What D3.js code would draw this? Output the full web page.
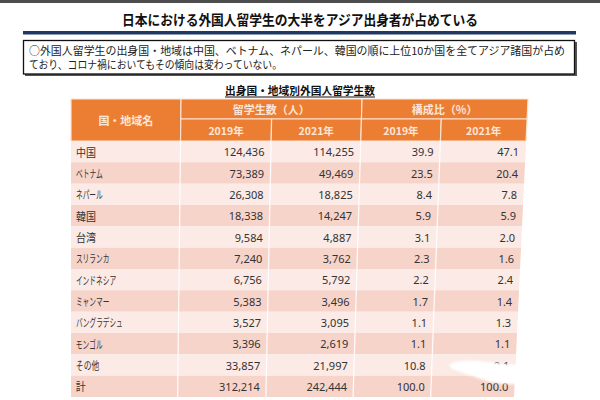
<!DOCTYPE html>
<html><head><meta charset="utf-8">
<script src="https://cdn.jsdelivr.net/npm/d3@7"></script>
<style>html,body{margin:0;padding:0;background:#fff;}svg{display:block;}</style>
</head><body>
<svg id="c" width="600" height="400"></svg>
<script>
const title = "日本における外国人留学生の大半をアジア出身者が占めている";
const note1 = "○外国人留学生の出身国・地域は中国、ベトナム、ネパール、韓国の順に上位10か国を全てアジア諸国が占め";
const note2 = "ており、コロナ禍においてもその傾向は変わっていない。";
const tableTitle = "出身国・地域別外国人留学生数";
const headCountry = "国・地域名";
const headGroups = ["留学生数（人）", "構成比（%）"];
const years = ["2019年", "2021年", "2019年", "2021年"];
const countries = ["中国","ベトナム","ネパール","韓国","台湾","スリランカ","インドネシア","ミャンマー","バングラデシュ","モンゴル","その他","計"];
const students2019 = [124436,73389,26308,18338,9584,7240,6756,5383,3527,3396,33857,312214];
const students2021 = [114255,49469,18825,14247,4887,3762,5792,3496,3095,2619,21997,242444];
const share2019 = [39.9,23.5,8.4,5.9,3.1,2.3,2.2,1.7,1.1,1.1,10.8,100.0];
const share2021 = [47.1,20.4,7.8,5.9,2.0,1.6,2.4,1.4,1.3,1.1,9.1,100.0];

const svg = d3.select("#c");
const JP = "'Noto Sans CJK JP','Noto Sans',sans-serif";

// top strip
svg.append("rect").attr("x",0).attr("y",0).attr("width",600).attr("height",3).attr("fill","#4d4d4d");

// title
svg.append("text").attr("x",300).attr("y",19).attr("text-anchor","middle").attr("dominant-baseline","central")
  .attr("font-family",JP).attr("font-weight",700).attr("font-size",14).attr("fill","#111")
  .attr("textLength",356).attr("lengthAdjust","spacingAndGlyphs").text(title);
svg.append("rect").attr("x",23).attr("y",31).attr("width",553).attr("height",3.5).attr("fill","#1f3864");

// note box
svg.append("rect").attr("x",25).attr("y",42).attr("width",552).attr("height",34).attr("fill","#555");
svg.append("rect").attr("x",23.5).attr("y",40.5).attr("width",551).attr("height",33.5)
  .attr("fill","#fff").attr("stroke","#111").attr("stroke-width",1.3);
svg.append("text").attr("x",29).attr("y",49.5).attr("dominant-baseline","central")
  .attr("font-family",JP).attr("font-size",11).attr("fill","#222")
  .attr("textLength",536).attr("lengthAdjust","spacingAndGlyphs").text(note1);
svg.append("text").attr("x",29).attr("y",64).attr("dominant-baseline","central")
  .attr("font-family",JP).attr("font-size",11).attr("fill","#222")
  .attr("textLength",253).attr("lengthAdjust","spacingAndGlyphs").text(note2);

// table subtitle
svg.append("text").attr("x",300).attr("y",90).attr("text-anchor","middle").attr("dominant-baseline","central")
  .attr("font-family",JP).attr("font-weight",700).attr("font-size",10.8).attr("fill","#111")
  .attr("textLength",150).attr("lengthAdjust","spacingAndGlyphs").text(tableTitle);
svg.append("rect").attr("x",225).attr("y",96.5).attr("width",150).attr("height",1).attr("fill","#111");

// table geometry via scales
const colKeys = ["name","s19","s21","p19","p21","end"];
const colX = d3.scaleOrdinal().domain(colKeys).range([71,181,272,362,442,528]);
const headSplit = 119;
const rowY = d3.scaleBand().domain(countries).range([141,397]);
// slight perspective of the photographed table
const warp = (x,y) => 71 + (x-71)*(1 - 0.000103*(y-100));
const quad = (x0,x1,y0,y1) => [[warp(x0,y0),y0],[warp(x1,y0),y0],[warp(x1,y1),y1],[warp(x0,y1),y1]]
  .map(p=>p.join(",")).join(" ");

const g = svg.append("g");
const orange = "#ec7e33";
const headTxt = "#fde6d8";

// header cells
const headCells = [
  {x0:"name",x1:"s19",y0:99,y1:141},
  {x0:"s19",x1:"p19",y0:99,y1:headSplit},
  {x0:"p19",x1:"end",y0:99,y1:headSplit},
  {x0:"s19",x1:"s21",y0:headSplit,y1:141},
  {x0:"s21",x1:"p19",y0:headSplit,y1:141},
  {x0:"p19",x1:"p21",y0:headSplit,y1:141},
  {x0:"p21",x1:"end",y0:headSplit,y1:141}
];
g.selectAll("polygon.h").data(headCells).join("polygon").attr("class","h")
  .attr("points",d=>quad(colX(d.x0),colX(d.x1),d.y0,d.y1))
  .attr("fill",orange).attr("stroke","#fbe3d3").attr("stroke-width",1.2);

// body cells
const cols = ["name","s19","s21","p19","p21"];
const nextCol = {name:"s19",s19:"s21",s21:"p19",p19:"p21",p21:"end"};
const bodyCells = [];
countries.forEach((c,i)=>cols.forEach(k=>bodyCells.push({c,i,k})));
g.selectAll("polygon.b").data(bodyCells).join("polygon").attr("class","b")
  .attr("points",d=>quad(colX(d.k),colX(nextCol[d.k]),rowY(d.c),rowY(d.c)+rowY.bandwidth()))
  .attr("fill",d=>d.i%2===0?"#fbeae5":"#f7d4ca");
g.selectAll("line.v").data(["s19","s21","p19","p21"]).join("line").attr("class","v")
  .attr("x1",k=>warp(colX(k),141)).attr("y1",141)
  .attr("x2",k=>warp(colX(k),397)).attr("y2",397)
  .attr("stroke","#fff").attr("stroke-width",1.3).attr("opacity",0.85);

// header texts
const hMid = (a,b,y)=> (warp(colX(a),y)+warp(colX(b),y))/2;
g.append("text").attr("x",hMid("name","s19",120)).attr("y",120).attr("text-anchor","middle").attr("dominant-baseline","central")
  .attr("font-family",JP).attr("font-weight",700).attr("font-size",11).attr("fill",headTxt).text(headCountry);
g.selectAll("text.hg").data(headGroups).join("text").attr("class","hg")
  .attr("x",(d,i)=> i===0?hMid("s19","p19",109):hMid("p19","end",109)).attr("y",109)
  .attr("text-anchor","middle").attr("dominant-baseline","central")
  .attr("font-family",JP).attr("font-weight",700).attr("font-size",11).attr("fill",headTxt).text(d=>d);
const yearCols = ["s19","s21","p19","p21"];
g.selectAll("text.yr").data(years).join("text").attr("class","yr")
  .attr("x",(d,i)=>hMid(yearCols[i],nextCol[yearCols[i]],130)).attr("y",130)
  .attr("text-anchor","middle").attr("dominant-baseline","central")
  .attr("font-family",JP).attr("font-weight",700).attr("font-size",10.5).attr("fill",headTxt).text(d=>d);

// body texts
const fmt = d3.format(",");
const fmt1 = d3.format(".1f");
const seriesByCol = {s19:[students2019,fmt],s21:[students2021,fmt],p19:[share2019,fmt1],p21:[share2021,fmt1]};
const cy = c => rowY(c)+rowY.bandwidth()/2;
// proportional width: ideographs full width, kana narrower (as in the source font)
const nameWidth = s => Array.from(s).reduce((w,ch)=> w + (/[\u4e00-\u9fff]/.test(ch) ? 10 : 6.7), 0);
g.selectAll("text.n").data(countries).join("text").attr("class","n")
  .attr("x",c=>warp(76,cy(c))).attr("y",c=>cy(c)).attr("dominant-baseline","central")
  .attr("font-family",JP).attr("font-size",11).attr("fill","#333")
  .attr("textLength",c=>nameWidth(c)).attr("lengthAdjust","spacingAndGlyphs").text(c=>c);
const numCells = [];
countries.forEach((c,i)=>yearCols.forEach(k=>numCells.push({c,i,k,v:seriesByCol[k][0][i],f:seriesByCol[k][1]})));
g.selectAll("text.v").data(numCells).join("text").attr("class","v")
  .attr("x",d=>warp(colX(nextCol[d.k])-6.5,cy(d.c))).attr("y",d=>cy(d.c))
  .attr("text-anchor","end").attr("dominant-baseline","central")
  .attr("font-family","'Noto Sans',sans-serif").attr("font-size",11).attr("fill","#333").text(d=>d.f(d.v));

// white smudge present over the photographed table
const defs = svg.append("defs");
defs.append("filter").attr("id","blur").append("feGaussianBlur").attr("stdDeviation",0.8);
svg.append("path").attr("filter","url(#blur)").attr("fill","#fff")
  .attr("d","M449,365 C455,360 470,360 490,362 C503,364 515,366 534,364 L536,385 C520,385 502,384 490,382 C477,378 465,373 452,369 Z");
</script>
</body></html>
